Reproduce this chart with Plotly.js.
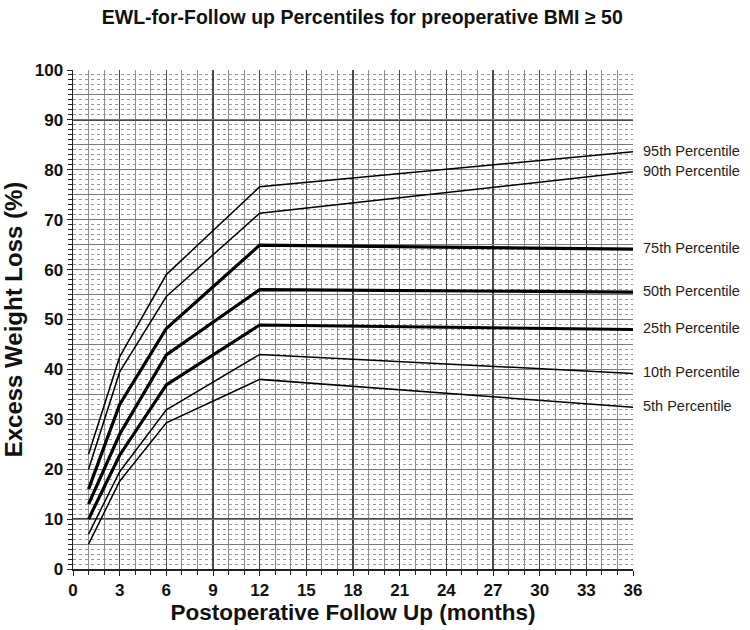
<!DOCTYPE html>
<html>
<head>
<meta charset="utf-8">
<script src="https://cdn.plot.ly/plotly-3.0.1.min.js"></script>
<style>html,body{margin:0;padding:0;background:#fff;}#chart{width:750px;height:630px;}</style>
</head>
<body>
<div id="chart"></div>
<script>
// Follow-up months
var months = [1, 3, 6, 12, 36];
// Percentile curves (EWL %)
var p95 = [23, 42.5, 59, 76.6, 83.6];
var p90 = [20, 39.5, 54.6, 71.3, 79.6];
var p75 = [16, 33, 48.2, 64.9, 64.1];
var p50 = [13, 27, 42.9, 56.0, 55.5];
var p25 = [10, 22.8, 36.9, 48.9, 48.0];
var p10 = [7, 19.5, 31.9, 43.0, 39.2];
var p5  = [5, 17.6, 29.3, 38.0, 32.4];
var seriesNames = ["95th Percentile","90th Percentile","75th Percentile","50th Percentile","25th Percentile","10th Percentile","5th Percentile"];
var seriesValues = [p95, p90, p75, p50, p25, p10, p5];
var seriesWidths = [1.5, 1.5, 3.2, 3.2, 3.2, 1.5, 1.5];
var xTicks = [0,3,6,9,12,15,18,21,24,27,30,33,36];
var yTicks = [0,10,20,30,40,50,60,70,80,90,100];

var traces = seriesValues.map(function(v, i){
  return {x: months, y: v, type: 'scatter', mode: 'lines', name: seriesNames[i],
    line: {color: '#000', width: seriesWidths[i]}, showlegend: false, hoverinfo: 'skip'};
});
// invisible trace for overlay axis (medium grid every 5)
traces.push({x: [0], y: [0], xaxis: 'x', yaxis: 'y2', mode: 'markers', marker: {opacity: 0}, showlegend: false, hoverinfo: 'skip'});

var annotations = seriesValues.map(function(v, i){
  return {x: 36, y: v[v.length-1], xref: 'x', yref: 'y', text: seriesNames[i], showarrow: false,
    xanchor: 'left', xshift: 8, yshift: 1, font: {family: 'Liberation Sans, Arial, sans-serif', size: 14.5, color: '#222'}};
});

var tickFont = {family: 'Liberation Sans, Arial, sans-serif', size: 17, color: '#111', weight: 'bold'};
var layout = {
  width: 750, height: 630,
  margin: {l: 73, r: 117, t: 70, b: 61},
  paper_bgcolor: '#fff', plot_bgcolor: '#fff',
  title: {text: '<b>EWL-for-Follow up Percentiles for preoperative BMI \u2265 50</b>',
    font: {family: 'Liberation Sans, Arial, sans-serif', size: 19.5, color: '#111'},
    x: 0.483, xanchor: 'center', y: 0.972, yanchor: 'middle'},
  xaxis: {range: [0, 36], tickvals: xTicks, ticktext: xTicks.map(String), ticks: 'outside', ticklen: 5, tickcolor: '#222',
    tickfont: tickFont, showline: true, linecolor: '#222', linewidth: 1.5,
    showgrid: true, gridcolor: '#4a4a4a', gridwidth: 1.3, zeroline: false,
    minor: {dtick: 1, tick0: 0, ticks: 'outside', ticklen: 4, tickcolor: '#222', showgrid: true, gridcolor: '#8c8c8c', gridwidth: 1},
    title: {text: '<b>Postoperative Follow Up (months)</b>', font: {family: 'Liberation Sans, Arial, sans-serif', size: 22.5, color: '#111'}, standoff: 2}},
  yaxis: {range: [0, 100], tickvals: yTicks, ticktext: yTicks.map(String), ticks: 'outside', ticklen: 5, tickcolor: '#222',
    tickfont: tickFont, showline: true, linecolor: '#222', linewidth: 1.5,
    showgrid: true, gridcolor: '#4a4a4a', gridwidth: 1.3, zeroline: false,
    minor: {dtick: 1, tick0: 0, ticks: 'outside', ticklen: 4, tickcolor: '#222', showgrid: true, gridcolor: '#999', gridwidth: 1, griddash: 'dot'},
    title: {text: '<b>Excess Weight Loss (%)</b>', font: {family: 'Liberation Sans, Arial, sans-serif', size: 24, color: '#111'}, standoff: 6}},
  yaxis2: {range: [0, 100], overlaying: 'y', dtick: 5, showticklabels: false, ticks: '', showgrid: true, gridcolor: '#7a7a7a', gridwidth: 1, zeroline: false, showline: false},
  annotations: annotations
};
Plotly.newPlot('chart', traces, layout, {staticPlot: true, displayModeBar: false});
</script>
</body>
</html>
